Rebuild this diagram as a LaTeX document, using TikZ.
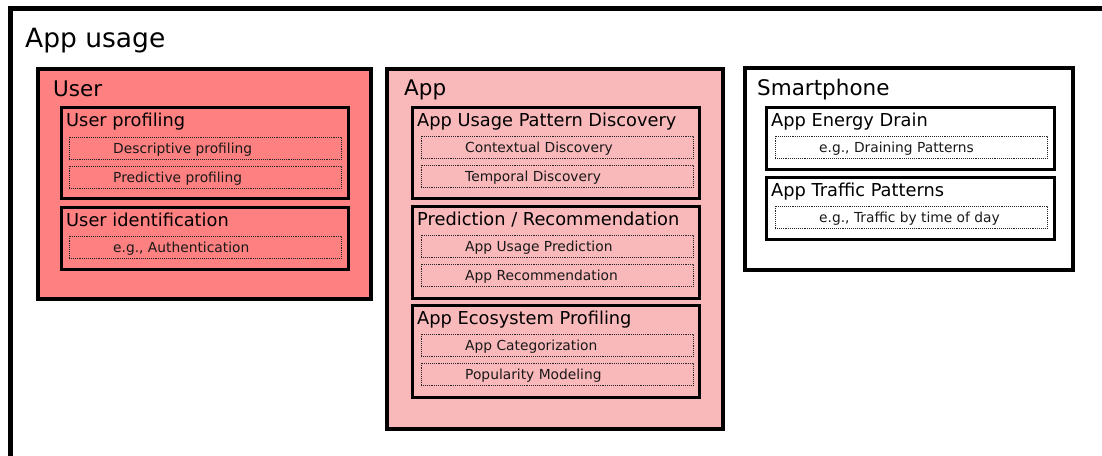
\documentclass[tikz,border=0pt]{standalone}
\usepackage{fontspec}
\setmainfont{DejaVu Sans}
\definecolor{userred}{RGB}{255,128,128}
\definecolor{apppink}{RGB}{249,184,186}

\begin{document}
\begin{tikzpicture}[x=1pt, y=-1pt,
groupbox/.style={draw=black, line width=4pt, anchor=north west, inner sep=0pt, outer sep=0pt},
secbox/.style={draw=black, line width=3pt, anchor=north west, inner sep=0pt, outer sep=0pt, minimum width=287pt},
itembox/.style={draw=black!85, densely dotted, line width=0.9pt, anchor=north west, inner sep=0pt, outer sep=0pt, minimum width=272pt, minimum height=22.5pt},
itemtext/.style={anchor=west, xshift=44pt, yshift=-1.5pt, inner sep=0pt, text height=10pt, text depth=3pt, text=black!90, font=\fontsize{13.8}{16}\selectfont},
bigtitle/.style={anchor=base west, inner sep=0pt, font=\fontsize{26.5}{30}\selectfont},
grouptitle/.style={anchor=base west, inner sep=0pt, font=\fontsize{21.5}{25}\selectfont},
sectitle/.style={anchor=base west, inner sep=0pt, font=\fontsize{17.8}{21}\selectfont}
]
\useasboundingbox (0,0) rectangle (1102,455);
\clip (0,0) rectangle (1102,455);

\draw[line width=5pt] (10.5,8.5) rectangle (1104.5,470);
\node[bigtitle] (usage) at (25,47) {App usage};

\node[groupbox, fill=userred, minimum width=333pt, minimum height=230pt] (user) at (38,69) {};
\node[grouptitle] (usertitle) at (53,96) {User};

\node[secbox, minimum height=91pt] (profiling) at (61,107) {};
\node[sectitle] (profilingtitle) at (66,126) {User profiling};
\node[itembox, label={[itemtext]west:Descriptive profiling}] (descriptive) at (69,137) {};
\node[itembox, label={[itemtext]west:Predictive profiling}] (predictive) at (69,166) {};

\node[secbox, minimum height=62pt] (identification) at (61,207) {};
\node[sectitle] (identificationtitle) at (66,226) {User identification};
\node[itembox, label={[itemtext]west:e.g., Authentication}] (authentication) at (69,236) {};

\node[groupbox, fill=apppink, minimum width=336pt, minimum height=360pt] (app) at (387,69) {};
\node[grouptitle] (apptitle) at (404,95) {App};

\node[secbox, minimum height=91pt] (pattern) at (412,107) {};
\node[sectitle] (patterntitle) at (417,126) {App Usage Pattern Discovery};
\node[itembox, label={[itemtext]west:Contextual Discovery}] (contextual) at (421,136) {};
\node[itembox, label={[itemtext]west:Temporal Discovery}] (temporal) at (421,165) {};

\node[secbox, minimum height=92pt] (prediction) at (412,206) {};
\node[sectitle] (predictiontitle) at (417,225) {Prediction / Recommendation};
\node[itembox, label={[itemtext]west:App Usage Prediction}] (usageprediction) at (421,235) {};
\node[itembox, label={[itemtext]west:App Recommendation}] (recommendation) at (421,264) {};

\node[secbox, minimum height=92pt] (ecosystem) at (412,305) {};
\node[sectitle] (ecosystemtitle) at (417,324) {App Ecosystem Profiling};
\node[itembox, label={[itemtext]west:App Categorization}] (categorization) at (421,334) {};
\node[itembox, label={[itemtext]west:Popularity Modeling}] (popularity) at (421,363) {};

\node[groupbox, fill=white, minimum width=328pt, minimum height=202pt] (phone) at (745,68) {};
\node[grouptitle] (phonetitle) at (757,95) {Smartphone};

\node[secbox, minimum width=288pt, minimum height=62pt] (energy) at (766,107) {};
\node[sectitle] (energytitle) at (771,126) {App Energy Drain};
\node[itembox, label={[itemtext]west:e.g., Draining Patterns}] (draining) at (775,136) {};

\node[secbox, minimum width=288pt, minimum height=62pt] (traffic) at (766,177) {};
\node[sectitle] (traffictitle) at (771,196) {App Traffic Patterns};
\node[itembox, label={[itemtext]west:e.g., Traffic by time of day}] (timeofday) at (775,206) {};
\end{tikzpicture}
\end{document}
